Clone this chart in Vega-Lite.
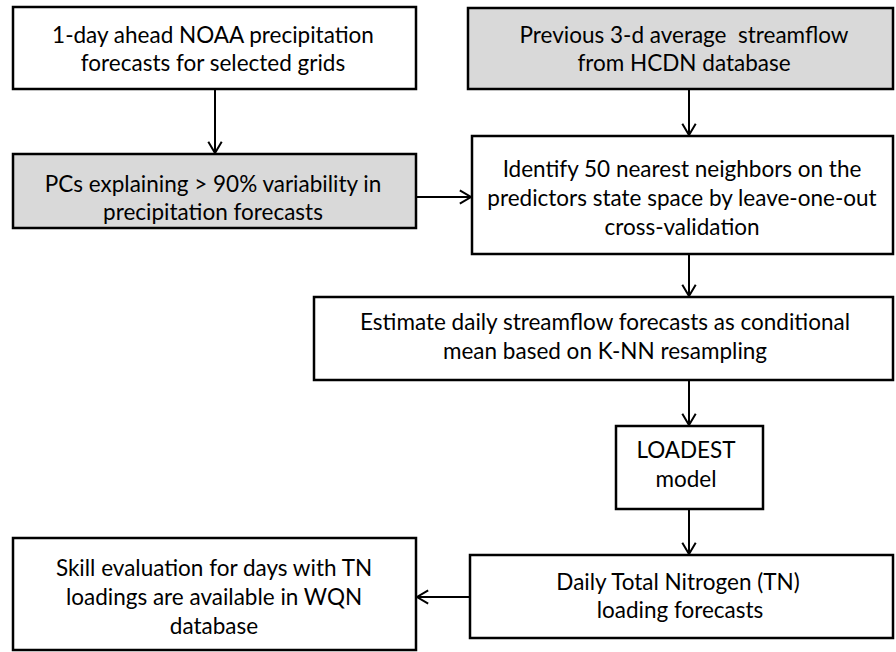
{
  "$schema": "https://vega.github.io/schema/vega-lite/v6.json",
  "width": 896,
  "height": 652,
  "autosize": {"type": "fit", "contains": "padding"},
  "padding": 0,
  "background": "white",
  "config": {"view": {"stroke": null}},
  "datasets": {
    "boxes": [
      {"id": "b1", "x": 13, "x2": 416, "y": 7, "y2": 89, "kind": "input"},
      {"id": "b2", "x": 13, "x2": 416, "y": 154, "y2": 228, "kind": "gray"},
      {"id": "b3", "x": 468, "x2": 893, "y": 8, "y2": 89, "kind": "gray"},
      {"id": "b4", "x": 472, "x2": 893, "y": 136, "y2": 254, "kind": "input"},
      {"id": "b5", "x": 314, "x2": 893, "y": 297, "y2": 380, "kind": "input"},
      {"id": "b6", "x": 616, "x2": 763, "y": 426, "y2": 509, "kind": "input"},
      {"id": "b7", "x": 470, "x2": 893, "y": 555, "y2": 638, "kind": "input"},
      {"id": "b8", "x": 13, "x2": 416, "y": 538, "y2": 650, "kind": "input"}
    ],
    "links": [
      {"x": 215, "y": 89, "x2": 215, "y2": 153, "angle": 90},
      {"x": 689, "y": 89, "x2": 689, "y2": 135, "angle": 90},
      {"x": 416, "y": 197, "x2": 471, "y2": 197, "angle": 0},
      {"x": 689, "y": 254, "x2": 689, "y2": 296, "angle": 90},
      {"x": 689, "y": 380, "x2": 689, "y2": 425, "angle": 90},
      {"x": 689, "y": 509, "x2": 689, "y2": 554, "angle": 90},
      {"x": 470, "y": 597, "x2": 417, "y2": 597, "angle": 180}
    ],
    "labels": [
      {"x": 213, "y": 36, "text": "1-day ahead NOAA precipitation"},
      {"x": 213, "y": 64, "text": "forecasts for selected grids"},
      {"x": 684, "y": 36, "text": "Previous 3-d average\u00a0 streamflow"},
      {"x": 684, "y": 64, "text": "from HCDN database"},
      {"x": 213, "y": 185, "text": "PCs explaining > 90% variability in"},
      {"x": 213, "y": 213, "text": "precipitation forecasts"},
      {"x": 682, "y": 170, "text": "Identify 50 nearest neighbors on the"},
      {"x": 682, "y": 199, "text": "predictors state space by leave-one-out"},
      {"x": 682, "y": 228, "text": "cross-validation"},
      {"x": 605, "y": 323, "text": "Estimate daily streamflow forecasts as conditional"},
      {"x": 605, "y": 352, "text": "mean based on K-NN resampling"},
      {"x": 686, "y": 451, "text": "LOADEST"},
      {"x": 686, "y": 480, "text": "model"},
      {"x": 678, "y": 583, "text": "Daily Total Nitrogen (TN)"},
      {"x": 680, "y": 611, "text": "loading forecasts"},
      {"x": 214, "y": 569, "text": "Skill evaluation for days with TN"},
      {"x": 214, "y": 598, "text": "loadings are available in WQN"},
      {"x": 214, "y": 627, "text": "database"}
    ]
  },
  "layer": [
    {
      "data": {"name": "links"},
      "mark": {"type": "rule", "stroke": "black", "strokeWidth": 2},
      "encoding": {
        "x": {"field": "x", "type": "quantitative", "scale": {"domain": [0, 896], "nice": false, "zero": false}, "axis": null},
        "y": {"field": "y", "type": "quantitative", "scale": {"domain": [0, 652], "nice": false, "zero": false, "reverse": true}, "axis": null},
        "x2": {"field": "x2"},
        "y2": {"field": "y2"}
      }
    },
    {
      "data": {"name": "boxes"},
      "mark": {"type": "rect", "stroke": "black", "strokeWidth": 2.5},
      "encoding": {
        "x": {"field": "x", "type": "quantitative", "axis": null},
        "x2": {"field": "x2"},
        "y": {"field": "y", "type": "quantitative", "axis": null},
        "y2": {"field": "y2"},
        "fill": {"field": "kind", "type": "nominal", "scale": {"domain": ["input", "gray"], "range": ["#ffffff", "#d9d9d9"]}, "legend": null}
      }
    },
    {
      "data": {"name": "links"},
      "mark": {"type": "point", "shape": "M-1,-0.6L0,0L-1,0.6", "filled": false, "stroke": "black", "strokeWidth": 2, "size": 500, "opacity": 1},
      "encoding": {
        "x": {"field": "x2", "type": "quantitative", "axis": null},
        "y": {"field": "y2", "type": "quantitative", "axis": null},
        "angle": {"field": "angle", "type": "quantitative", "scale": null}
      }
    },
    {
      "data": {"name": "labels"},
      "mark": {"type": "text", "font": "Lato", "fontSize": 22.5, "color": "black", "align": "center", "baseline": "middle"},
      "encoding": {
        "x": {"field": "x", "type": "quantitative", "axis": null},
        "y": {"field": "y", "type": "quantitative", "axis": null},
        "text": {"field": "text", "type": "nominal"}
      }
    }
  ]
}
